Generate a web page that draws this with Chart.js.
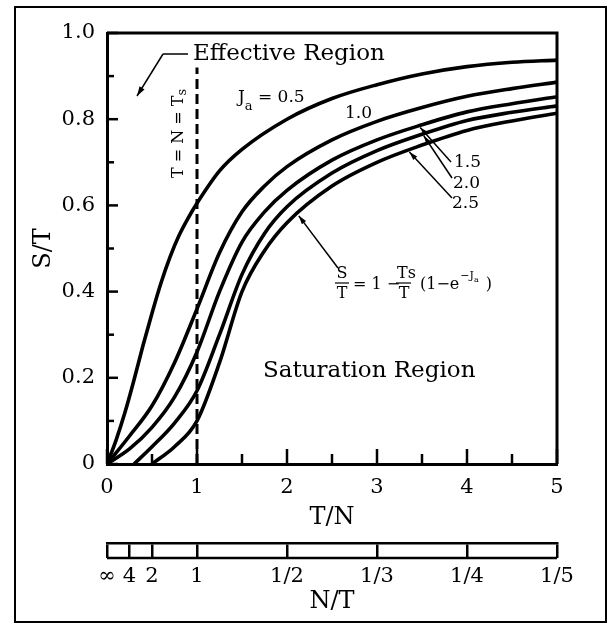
<!DOCTYPE html>
<html>
<head>
<meta charset="utf-8">
<script src="https://cdn.jsdelivr.net/npm/chart.js@4.4.0/dist/chart.umd.min.js"></script>
<style>
  html, body { margin: 0; padding: 0; background: #fff; }
  canvas { display: block; }
</style>
</head>
<body>
<canvas id="grafico" width="608" height="624"></canvas>
<script>
// Curvas S/T frente a T/N para cada J_a
const ja05X = [0, 0.1, 0.2, 0.3, 0.4, 0.5, 0.6, 0.7, 0.8, 0.9, 1, 1.25, 1.5, 2, 2.5, 3, 3.5, 4, 4.5, 5];
const ja05Y = [0, 0.055, 0.12, 0.195, 0.275, 0.35, 0.42, 0.48, 0.53, 0.57, 0.605, 0.68, 0.73, 0.8, 0.848, 0.88, 0.905, 0.922, 0.932, 0.937];

const ja10X = [0, 0.25, 0.5, 0.75, 1, 1.25, 1.5, 1.75, 2, 2.5, 3, 3.5, 4, 4.5, 5];
const ja10Y = [0, 0.065, 0.135, 0.235, 0.36, 0.49, 0.585, 0.645, 0.69, 0.752, 0.795, 0.827, 0.853, 0.871, 0.886];

const ja15X = [0, 0.25, 0.5, 0.75, 1, 1.25, 1.5, 1.75, 2, 2.5, 3, 3.5, 4, 4.5, 5];
const ja15Y = [0, 0.035, 0.085, 0.155, 0.26, 0.4, 0.515, 0.585, 0.635, 0.705, 0.752, 0.787, 0.817, 0.836, 0.852];

const ja20X = [0.3, 0.5, 0.75, 1, 1.25, 1.5, 1.75, 2, 2.5, 3, 3.5, 4, 4.5, 5];
const ja20Y = [0, 0.04, 0.095, 0.17, 0.3, 0.44, 0.535, 0.597, 0.675, 0.727, 0.765, 0.797, 0.816, 0.831];

const ja25X = [0.5, 0.75, 1, 1.25, 1.5, 1.75, 2, 2.5, 3, 3.5, 4, 4.5, 5];
const ja25Y = [0, 0.04, 0.1, 0.235, 0.4, 0.495, 0.56, 0.645, 0.7, 0.74, 0.774, 0.796, 0.814];

// Linea T = N = Ts
const limiteX = [1, 1];
const limiteY = [0, 0.92];

// Etiquetas de ejes
const tnTicks = [0, 1, 2, 3, 4, 5];
const yTickLabels = ["0", "0.2", "0.4", "0.6", "0.8", "1.0"];
const ntTickPos = [0, 0.25, 0.5, 1, 2, 3, 4, 5];
const ntTickLabels = ["\u221E", "4", "2", "1", "1/2", "1/3", "1/4", "1/5"];

const FUENTE = "DejaVu Serif";

function puntos(xs, ys) {
  return xs.map((x, i) => ({ x: x, y: ys[i] }));
}

function valorEn(xs, ys, x) {
  for (let i = 1; i < xs.length; i++) {
    if (x <= xs[i]) {
      const t = (x - xs[i - 1]) / (xs[i] - xs[i - 1]);
      return ys[i - 1] + t * (ys[i] - ys[i - 1]);
    }
  }
  return ys[ys.length - 1];
}

function curva(xs, ys) {
  return {
    data: puntos(xs, ys),
    borderColor: "#000",
    borderWidth: 3.6,
    pointRadius: 0,
    fill: false,
    cubicInterpolationMode: "monotone",
  };
}

function flecha(ctx, x1, y1, x2, y2, size) {
  ctx.beginPath();
  ctx.moveTo(x1, y1);
  ctx.lineTo(x2, y2);
  ctx.stroke();
  const ang = Math.atan2(y2 - y1, x2 - x1);
  ctx.beginPath();
  ctx.moveTo(x2, y2);
  ctx.lineTo(x2 - size * Math.cos(ang - 0.3), y2 - size * Math.sin(ang - 0.3));
  ctx.lineTo(x2 - size * Math.cos(ang + 0.3), y2 - size * Math.sin(ang + 0.3));
  ctx.closePath();
  ctx.fill();
}

function texto(ctx, str, x, y, size, align) {
  ctx.font = size + "px '" + FUENTE + "'";
  ctx.textAlign = align || "left";
  ctx.textBaseline = "alphabetic";
  ctx.fillText(str, x, y);
  return ctx.measureText(str).width;
}

// Marco, ticks interiores, escala N/T y anotaciones
const marcoPlugin = {
  id: "marco",
  afterDraw(chart) {
    const ctx = chart.ctx;
    const area = chart.chartArea;
    const sx = chart.scales.x;
    const sy = chart.scales.y;
    const sx2 = chart.scales.x2;
    ctx.save();
    ctx.strokeStyle = "#000";
    ctx.fillStyle = "#000";

    ctx.lineWidth = 2;
    ctx.strokeRect(15, 7, 591, 615);

    ctx.lineWidth = 3;
    ctx.beginPath();
    ctx.moveTo(area.left, area.top);
    ctx.lineTo(area.right, area.top);
    ctx.lineTo(area.right, area.bottom);
    ctx.stroke();

    ctx.lineWidth = 2.5;
    sx.ticks.forEach((t) => {
      const px = sx.getPixelForValue(t.value);
      const mayor = Math.abs(t.value - Math.round(t.value)) < 1e-6;
      ctx.beginPath();
      ctx.moveTo(px, area.bottom);
      ctx.lineTo(px, area.bottom - (mayor ? 15 : 10));
      ctx.stroke();
    });
    sy.ticks.forEach((t) => {
      const py = sy.getPixelForValue(t.value);
      const mayor = Math.round(t.value * 10) % 2 === 0;
      ctx.beginPath();
      ctx.moveTo(area.left, py);
      ctx.lineTo(area.left + (mayor ? 11 : 7), py);
      ctx.stroke();
    });

    // borde inferior de la barra N/T
    ctx.lineWidth = 2.5;
    ctx.beginPath();
    ctx.moveTo(sx2.left, sx2.top + 15);
    ctx.lineTo(sx2.right, sx2.top + 15);
    ctx.stroke();

    // Textos
    texto(ctx, "Effective Region", 193, 60, 23);
    texto(ctx, "Saturation Region", 263, 377, 23);

    ctx.lineWidth = 1.5;
    ctx.beginPath();
    ctx.moveTo(188, 54);
    ctx.lineTo(163, 54);
    ctx.stroke();
    flecha(ctx, 163, 54, 137, 96, 10);

    // T = N = Ts (vertical)
    ctx.save();
    ctx.translate(183, 132);
    ctx.rotate(-Math.PI / 2);
    let w = texto(ctx, "T = N = T", -46, 0, 16);
    texto(ctx, "s", -46 + w, 3, 13);
    ctx.restore();

    // J_a = 0.5
    let jx = 238;
    jx += texto(ctx, "J", jx, 102, 17);
    jx += texto(ctx, "a", jx, 110, 13);
    texto(ctx, " = 0.5", jx, 102, 17);
    texto(ctx, "1.0", 345, 118, 17);
    texto(ctx, "1.5", 454, 167, 17);
    texto(ctx, "2.0", 453, 188, 17);
    texto(ctx, "2.5", 452, 208, 17);

    const tip = (xs, ys, x) => [sx.getPixelForValue(x), sy.getPixelForValue(valorEn(xs, ys, x))];
    ctx.lineWidth = 1.5;
    let p = tip(ja15X, ja15Y, 3.48);
    flecha(ctx, 451, 162, p[0], p[1] + 2, 9);
    p = tip(ja20X, ja20Y, 3.52);
    flecha(ctx, 452, 178, p[0], p[1] + 2, 9);
    p = tip(ja25X, ja25Y, 3.36);
    flecha(ctx, 452, 198, p[0], p[1] + 2, 9);
    p = tip(ja25X, ja25Y, 2.12);
    flecha(ctx, 338, 268, p[0] + 1, p[1] + 2, 9);

    // S/T = 1 - Ts/T (1 - e^-Ja)
    ctx.lineWidth = 1.2;
    texto(ctx, "S", 342, 278, 16, "center");
    texto(ctx, "T", 342, 298, 16, "center");
    ctx.beginPath();
    ctx.moveTo(335, 283);
    ctx.lineTo(349, 283);
    ctx.stroke();
    texto(ctx, "= 1 \u2212", 353, 289, 16);
    let tx = 397;
    tx += texto(ctx, "T", tx, 278, 16);
    texto(ctx, "s", tx, 278, 16);
    texto(ctx, "T", 404, 298, 16, "center");
    ctx.beginPath();
    ctx.moveTo(396, 283);
    ctx.lineTo(411, 283);
    ctx.stroke();
    let fx = 420;
    fx += texto(ctx, "(1\u2212e", fx, 289, 16);
    fx += texto(ctx, "\u2212J", fx + 1, 279, 11) + 1;
    fx += texto(ctx, "a", fx, 282, 8);
    texto(ctx, " )", fx + 2, 289, 16);

    ctx.restore();
  },
};

function crearGrafico() {
  const ctx = document.getElementById("grafico").getContext("2d");
  new Chart(ctx, {
    type: "line",
    data: {
      datasets: [
        curva(ja05X, ja05Y),
        curva(ja10X, ja10Y),
        curva(ja15X, ja15Y),
        curva(ja20X, ja20Y),
        curva(ja25X, ja25Y),
        {
          data: puntos(limiteX, limiteY),
          borderColor: "#000",
          borderWidth: 3,
          borderDash: [10, 5],
          pointRadius: 0,
          fill: false,
        },
      ],
    },
    options: {
      responsive: false,
      animation: false,
      devicePixelRatio: 1,
      layout: { padding: { left: 0, top: 33, right: 51, bottom: 0 } },
      plugins: {
        legend: { display: false },
        tooltip: { enabled: false },
      },
      scales: {
        x: {
          type: "linear",
          position: "bottom",
          weight: 0,
          min: 0,
          max: 5,
          grid: { display: false, drawTicks: false },
          border: { display: true, color: "#000", width: 3 },
          ticks: {
            stepSize: 0.5,
            autoSkip: false,
            maxRotation: 0,
            padding: 11,
            color: "#000",
            font: { family: FUENTE, size: 21 },
            callback: (v) => (tnTicks.includes(v) ? String(v) : ""),
          },
          title: {
            display: true,
            text: "T/N",
            color: "#000",
            font: { family: FUENTE, size: 24 },
            padding: { top: 0, bottom: 11 },
          },
          afterFit: (s) => { s.height = 79; },
        },
        x2: {
          type: "linear",
          position: "bottom",
          weight: 1,
          min: 0,
          max: 5,
          afterBuildTicks: (s) => { s.ticks = ntTickPos.map((v) => ({ value: v })); },
          grid: {
            display: true,
            drawOnChartArea: false,
            drawTicks: true,
            tickLength: 15,
            color: "#000",
            lineWidth: 2.5,
          },
          border: { display: true, color: "#000", width: 2.5 },
          ticks: {
            autoSkip: false,
            maxRotation: 0,
            padding: 6,
            color: "#000",
            font: { family: FUENTE, size: 21 },
            callback: (v, i) => ntTickLabels[i],
          },
          title: {
            display: true,
            text: "N/T",
            color: "#000",
            font: { family: FUENTE, size: 24 },
            padding: { top: 0, bottom: 8 },
          },
          afterFit: (s) => { s.height = 81; },
        },
        y: {
          type: "linear",
          position: "left",
          min: 0,
          max: 1,
          grid: { display: false, drawTicks: false },
          border: { display: true, color: "#000", width: 3 },
          ticks: {
            stepSize: 0.1,
            autoSkip: false,
            padding: 12,
            color: "#000",
            font: { family: FUENTE, size: 21 },
            callback: (v) => {
              const i = Math.round(v * 10);
              return i % 2 === 0 ? yTickLabels[i / 2] : "";
            },
          },
          title: {
            display: true,
            text: "S/T",
            color: "#000",
            font: { family: FUENTE, size: 24 },
            padding: { top: 29, bottom: 0 },
          },
          afterFit: (s) => { s.width = 107; },
        },
      },
    },
    plugins: [marcoPlugin],
  });
}

document.addEventListener("DOMContentLoaded", () => {
  crearGrafico();
});
</script>
</body>
</html>
